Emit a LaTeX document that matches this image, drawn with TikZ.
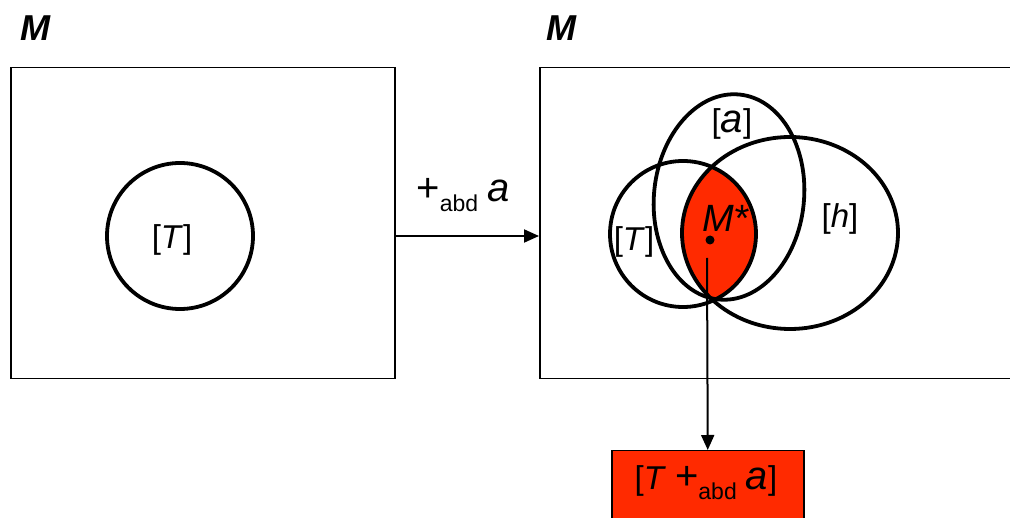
\documentclass[tikz,border=0pt]{standalone}
\usepackage{fontspec}
\setmainfont{Liberation Sans}
\usetikzlibrary{arrows.meta}
\newcommand\abdsub{\raisebox{-0.3em}{\fontsize{23}{27}\selectfont abd}}
\newcommand\biga{\textit{\fontsize{40}{46}\selectfont a}}
\newcommand\bigplus{{\fontsize{40}{46}\selectfont +}}
\definecolor{hot}{HTML}{FF2A00}
\begin{document}
\begin{tikzpicture}[x=1pt,y=-1pt,
  frame/.style={draw, line width=1.5pt, inner sep=0pt},
  setline/.style={draw, line width=3.8pt},
  lbl/.style={font=\fontsize{33}{38}\selectfont, inner sep=0pt},
  title/.style={font=\fontsize{36}{42}\selectfont\bfseries\itshape, inner sep=0pt},
  arr/.style={-{Triangle[length=15pt,width=13pt]}, line width=2pt}]
\clip (0,0) rectangle (1010,518);
% titles
\node[title] (m1) at (35,28) {M};
\node[title] (m2) at (561,28) {M};
% frames
\node[frame, anchor=north west, minimum width=384pt, minimum height=311pt] (box1) at (10,67) {};
\node[frame, anchor=north west, minimum width=490pt, minimum height=311pt] (box2) at (539,67) {};
% left circle
\node[setline, circle, minimum size=146pt, inner sep=0pt] (Tl) at (180,236) {};
\node[lbl] (Tllbl) at (172,240) {[\textit{T}]};
% arrow between frames
\draw[arr] (box1.east |- Tl.center) -- (box2.west |- Tl.center);
\node[lbl] (op) at (463,195) {\bigplus\abdsub\ \biga};
% red lens
\begin{scope}
  \clip (683,234) circle (73pt);
  \fill[hot] (790,233) ellipse [x radius=108pt, y radius=96pt];
\end{scope}
% set outlines
\draw[setline] (683,234) circle (73pt);
\draw[setline] (729,197) ellipse [x radius=75pt, y radius=103pt, rotate=-6];
\draw[setline] (790,233) ellipse [x radius=108pt, y radius=96pt];
% labels
\node[lbl] (alab) at (732,124) {[\biga]};
\node[lbl] (hlab) at (840,219) {[\textit{h}]};
\node[lbl] (Tlab) at (634,242) {[\textit{T}]};
\node[lbl, font=\fontsize{38}{44}\selectfont] (mstar) at (726,218) {\textit{M*}};
\node[circle, fill=black, inner sep=0pt, minimum size=9pt] (dot) at (710,240) {};
% result box
\node[frame, fill=hot, anchor=north west, minimum width=192pt, minimum height=90pt] (res) at (611,450) {};
\node[lbl] (reslbl) at (706,483) {[\textit{T} \bigplus\abdsub\ \biga]};
\coordinate (ls) at (707,258);
\draw[arr] (ls) -- (res.north);
\end{tikzpicture}
\end{document}
